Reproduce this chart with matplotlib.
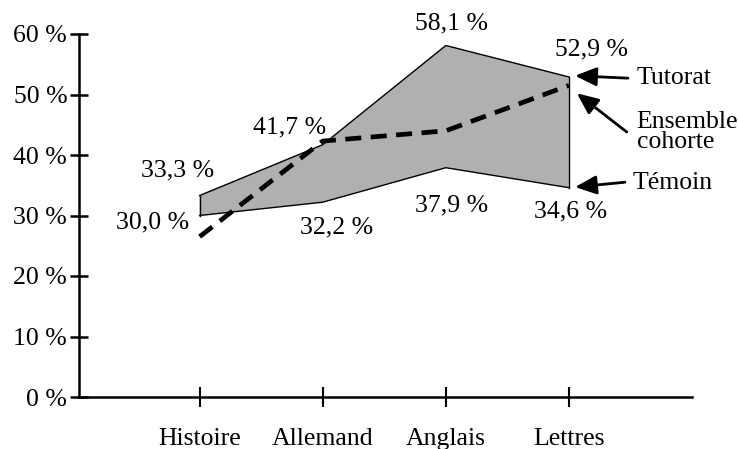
import matplotlib
matplotlib.use("Agg")
import matplotlib.pyplot as plt

categories = ["Histoire", "Allemand", "Anglais", "Lettres"]
tutorat = [33.3, 41.7, 58.1, 52.9]
temoin = [30.0, 32.2, 37.9, 34.6]
ensemble = [26.5, 42.3, 44.0, 51.5]
yticks = [0, 10, 20, 30, 40, 50, 60]

# label offsets (dx, dy) relative to each point
tut_off = [(-0.18, 4.2), (-0.27, 2.8), (0.05, 3.7), (0.18, 4.5)]
tem_off = [(-0.38, -1.1), (0.11, -4.1), (0.05, -6.3), (0.01, -3.9)]

plt.rcParams['font.family'] = ['Liberation Serif', 'DejaVu Serif']
FS = 18.5

fig = plt.figure(figsize=(7.39, 4.49), dpi=100)
ax = fig.add_axes([79/739, 52/449, 613/739, 363/449])
x = list(range(len(categories)))

ax.fill_between(x, temoin, tutorat, facecolor='#b0b0b0', edgecolor='none', zorder=1)
ax.plot(x, tutorat, color='black', lw=1.0, zorder=2)
ax.plot(x, temoin, color='black', lw=1.0, zorder=2)
ax.plot([x[0], x[0]], [temoin[0], tutorat[0]], color='black', lw=1.0, zorder=2)
ax.plot([x[-1], x[-1]], [temoin[-1], tutorat[-1]], color='black', lw=1.0, zorder=2)
ax.plot(x, ensemble, color='black', lw=3.4, dashes=(3.4, 2.0), zorder=3)

def fmt(v):
    return f"{v:.1f} %".replace('.', ',')

for i, v in enumerate(tutorat):
    dx, dy = tut_off[i]
    ax.text(i + dx, v + dy, fmt(v), ha='center', va='center', fontsize=FS, clip_on=False)
for i, v in enumerate(temoin):
    dx, dy = tem_off[i]
    ax.text(i + dx, v + dy, fmt(v), ha='center', va='center', fontsize=FS, clip_on=False)

arrow = dict(arrowstyle='-|>,head_length=0.5,head_width=0.22', color='black', lw=2.0,
             mutation_scale=26, shrinkA=0, shrinkB=0)
n = len(categories) - 1
ax.annotate('', xy=(n + 0.05, tutorat[-1] + 0.2), xytext=(n + 0.48, tutorat[-1] - 0.2),
            arrowprops=arrow, annotation_clip=False)
ax.text(n + 0.55, tutorat[-1] - 0.2, "Tutorat", ha='left', va='center', fontsize=FS)
ax.annotate('', xy=(n + 0.065, ensemble[-1] - 1.3), xytext=(n + 0.47, ensemble[-1] - 7.7),
            arrowprops=arrow, annotation_clip=False)
ax.text(n + 0.55, ensemble[-1] - 7.7, "Ensemble\ncohorte", ha='left', va='center',
        fontsize=FS, linespacing=0.85)
ax.annotate('', xy=(n + 0.05, temoin[-1] + 0.1), xytext=(n + 0.455, temoin[-1] + 0.9),
            arrowprops=arrow, annotation_clip=False)
ax.text(n + 0.52, temoin[-1] + 0.8, "Témoin", ha='left', va='center', fontsize=FS)

ax.set_xlim(-0.98, 4.0)
ax.set_ylim(0, 60)
ax.set_xticks(x)
ax.set_xticklabels(categories, fontsize=FS)
ax.set_yticks(yticks)
ax.set_yticklabels([f"{t} %" for t in yticks], fontsize=FS)
for s in ['top', 'right']:
    ax.spines[s].set_visible(False)
for s in ['left', 'bottom']:
    ax.spines[s].set_linewidth(1.8)
ax.tick_params(axis='y', direction='inout', length=13, width=1.8, pad=2)
ax.tick_params(axis='x', direction='inout', length=14, width=1.5, pad=15)

fig.savefig("out.png", dpi=100)
